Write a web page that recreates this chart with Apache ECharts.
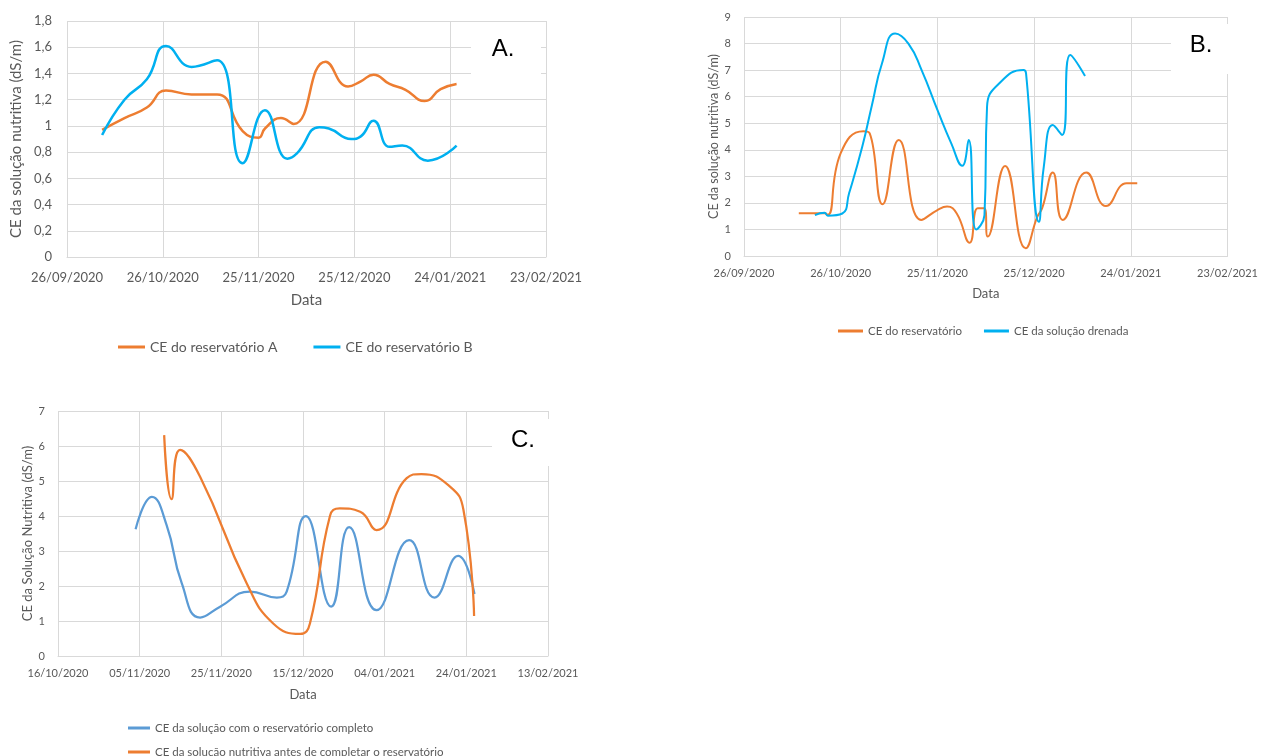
<!DOCTYPE html>
<html><head><meta charset="utf-8">
<script src="https://cdn.jsdelivr.net/npm/echarts@6/dist/echarts.min.js"></script>
<style>html,body{margin:0;padding:0;background:#fff}#c{width:1261px;height:756px}</style>
</head><body><div id="c"></div>
<script>
// ---------- Panel A (days since 26/09/2020) ----------
const aStart = [2020, 8, 26];
const aDaysA = [11, 18, 25, 31, 39, 47, 55, 60, 62, 67, 71, 81, 88, 92, 96, 101, 106, 112, 117, 122];
const aResA  = [0.97, 1.06, 1.14, 1.27, 1.24, 1.24, 0.96, 0.91, 0.98, 1.06, 1.015, 1.49, 1.30, 1.34, 1.39, 1.32, 1.275, 1.19, 1.28, 1.32];
const aDaysB = [11, 18, 25, 31, 39, 47, 55, 62, 69, 72, 79, 82, 89, 92, 96, 101, 105, 113, 122];
const aResB  = [0.93, 1.2, 1.355, 1.61, 1.45, 1.5, 0.715, 1.12, 0.75, 0.79, 0.99, 0.98, 0.9, 0.92, 1.04, 0.84, 0.85, 0.735, 0.85];

// ---------- Panel B (days since 26/09/2020) ----------
const bStart = [2020, 8, 26];
const bDaysRes = [17, 25, 26, 30, 37, 39, 43, 48, 55, 60, 63, 66, 70, 72.5, 74.6, 75.6, 81, 87.4, 91, 92.5, 95.8, 98.9, 106.2, 112.3, 118.7, 122];
const bRes     = [1.61, 1.61, 1.55, 3.87, 4.7, 4.62, 1.95, 4.37, 1.36, 1.73, 1.86, 1.6, 0.5, 1.8, 1.8, 0.73, 3.39, 0.29, 1.48, 1.8, 3.14, 1.36, 3.14, 1.88, 2.74, 2.74];
const bDaysDren = [22, 25, 26, 30.5, 32.6, 36.7, 39.7, 42.8, 46.9, 51, 55.1, 60, 64.3, 67.7, 69.7, 72, 74.6, 75.4, 79.7, 86.7, 87.5, 91.5, 93, 95.8, 98.7, 101.2, 105.8];
const bDren     = [1.54, 1.63, 1.52, 1.6, 2.36, 4.12, 5.69, 7.25, 8.38, 8.0, 7.0, 5.5, 4.24, 3.4, 4.37, 1.0, 1.54, 5.62, 6.56, 7.0, 6.88, 1.29, 3.36, 4.93, 4.56, 7.57, 6.78];

// ---------- Panel C (days since 16/10/2020) ----------
const cStart = [2020, 9, 16];
const cDaysComp = [19, 23, 26.6, 30.3, 34.8, 39.7, 47, 53.6, 56, 60.7, 66.9, 71.3, 78, 86, 92.2, 98, 102];
const cComp     = [3.62, 4.55, 3.74, 2.08, 1.1, 1.41, 1.84, 1.67, 1.84, 4.0, 1.41, 3.68, 1.31, 3.31, 1.67, 2.86, 1.77];
const cDaysAntes = [26, 27.8, 29.9, 34.8, 46.2, 52.7, 59.3, 61.7, 66.6, 69, 74, 78, 85.4, 89, 96, 99.3, 101.9];
const cAntes     = [6.31, 4.48, 5.89, 5.12, 2.08, 0.93, 0.63, 0.93, 4.0, 4.22, 4.12, 3.6, 5.08, 5.2, 4.84, 4.17, 1.14];

const namesA = ['CE do reservatório A', 'CE do reservatório B'];
const namesB = ['CE do reservatório', 'CE da solução drenada'];
const namesC = ['CE da solução com o reservatório completo', 'CE da solução nutritiva antes de completar o reservatório'];

const ORANGE = '#ED7D31', CYAN = '#00B0F0', STEEL = '#5B9BD5';
const GRID = '#D9D9D9', TXT = '#595959', FONT = 'Lato, "Open Sans", sans-serif';

function dateFmt(start) {
  return function (v) {
    const d = new Date(Date.UTC(start[0], start[1], start[2]) + Math.round(v) * 86400000);
    const p = n => (n < 10 ? '0' : '') + n;
    return p(d.getUTCDate()) + '/' + p(d.getUTCMonth() + 1) + '/' + d.getUTCFullYear();
  };
}
function numFmt(v) { return String(Number(v.toFixed(1))).replace('.', ','); }
function pairs(xs, ys) { return xs.map((x, i) => [x, ys[i]]); }

function xAx(idx, start, max, interval, fs, margin, gap, nfs) {
  return {
    type: 'value', gridIndex: idx, min: 0, max: max, interval: interval,
    axisLine: { show: true, lineStyle: { color: GRID, width: 1 } },
    axisTick: { show: false },
    splitLine: { show: true, lineStyle: { color: GRID, width: 1 } },
    axisLabel: { formatter: dateFmt(start), color: TXT, fontSize: fs, fontFamily: FONT, margin: margin },
    name: 'Data', nameLocation: 'middle', nameGap: gap,
    nameTextStyle: { color: TXT, fontSize: nfs, fontFamily: FONT }
  };
}
function yAx(idx, max, interval, fs, margin, name, gap, nfs) {
  return {
    type: 'value', gridIndex: idx, min: 0, max: max, interval: interval,
    axisLine: { show: false }, axisTick: { show: false },
    splitLine: { show: true, lineStyle: { color: GRID, width: 1 } },
    axisLabel: { formatter: numFmt, color: TXT, fontSize: fs, fontFamily: FONT, margin: margin },
    name: name, nameLocation: 'middle', nameGap: gap, nameRotate: 90,
    nameTextStyle: { color: TXT, fontSize: nfs, fontFamily: FONT }
  };
}
function line(name, idx, data, color, w) {
  return {
    type: 'line', name: name, xAxisIndex: idx, yAxisIndex: idx, data: data,
    smooth: 0.5, symbol: 'none', showSymbol: false,
    lineStyle: { color: color, width: w }, itemStyle: { color: color },
    emphasis: { disabled: true }, animation: false
  };
}
function legend(names, left, top, w, gap, fs) {
  return { data: names, left: left, top: top, icon: 'rect', itemWidth: w, itemHeight: 3, itemGap: gap,
    textStyle: { color: TXT, fontSize: fs, fontFamily: FONT }, selectedMode: false };
}

const chart = echarts.init(document.getElementById('c'), null, { renderer: 'canvas' });
chart.setOption({
  animation: false,
  backgroundColor: '#fff',
  grid: [
    { left: 67, top: 21, width: 479, height: 236 },
    { left: 744, top: 17, width: 488, height: 239 },
    { left: 58, top: 411, width: 490, height: 245 }
  ],
  xAxis: [
    xAx(0, aStart, 150, 30, 13, 14, 36, 15),
    xAx(1, bStart, 150, 30, 11, 12, 31, 13),
    xAx(2, cStart, 120, 20, 11, 12, 32, 13)
  ],
  yAxis: [
    yAx(0, 1.8, 0.2, 13, 15, 'CE da solução nutritiva (dS/m)', 43, 15),
    yAx(1, 9, 1, 11, 13, 'CE da solução nutritiva (dS/m)', 22, 12.5),
    yAx(2, 7, 1, 11, 13, 'CE da Solução Nutritiva (dS/m)', 24, 13)
  ],
  legend: [
    legend(namesA, 113, 335, 27, 36, 14),
    legend(namesB, 833, 320, 25, 22, 11.5),
    legend([namesC[0]], 123, 717, 22, 10, 11.5),
    legend([namesC[1]], 123, 741, 22, 10, 11.5)
  ],
  graphic: [
    { type: 'rect', shape: { x: 471, y: 27, width: 70, height: 52 }, style: { fill: '#fff' }, z: 50 },
    { type: 'text', x: 503, y: 49, style: { text: 'A.', font: '24px "Liberation Sans", Arial, sans-serif', fill: '#000', textAlign: 'center', textVerticalAlign: 'middle' }, z: 51 },
    { type: 'rect', shape: { x: 1171, y: 24, width: 72, height: 50 }, style: { fill: '#fff' }, z: 50 },
    { type: 'text', x: 1201, y: 45, style: { text: 'B.', font: '24px "Liberation Sans", Arial, sans-serif', fill: '#000', textAlign: 'center', textVerticalAlign: 'middle' }, z: 51 },
    { type: 'rect', shape: { x: 492, y: 419, width: 64, height: 47 }, style: { fill: '#fff' }, z: 50 },
    { type: 'text', x: 523, y: 440, style: { text: 'C.', font: '24px "Liberation Sans", Arial, sans-serif', fill: '#000', textAlign: 'center', textVerticalAlign: 'middle' }, z: 51 }
  ],
  series: [
    line(namesA[0], 0, pairs(aDaysA, aResA), ORANGE, 2.5),
    line(namesA[1], 0, pairs(aDaysB, aResB), CYAN, 2.5),
    line(namesB[0], 1, pairs(bDaysRes, bRes), ORANGE, 2),
    line(namesB[1], 1, pairs(bDaysDren, bDren), CYAN, 2),
    line(namesC[0], 2, pairs(cDaysComp, cComp), STEEL, 2.25),
    line(namesC[1], 2, pairs(cDaysAntes, cAntes), ORANGE, 2.25)
  ]
});
</script></body></html>
